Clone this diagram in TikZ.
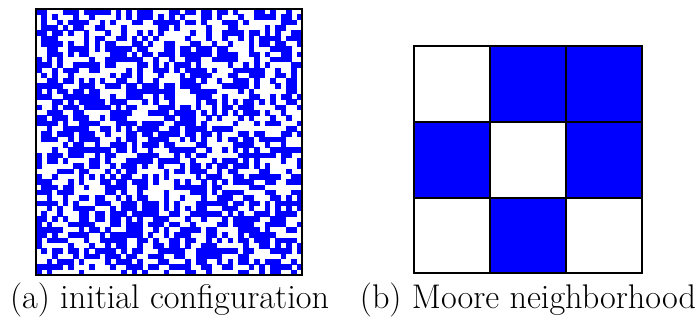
\documentclass[tikz,border=0pt]{standalone}
\begin{document}
\begin{tikzpicture}[x=1pt,y=-1pt,
  caption/.style={anchor=base,inner sep=0pt,font=\fontsize{34.2}{40}\selectfont},
  gridline/.style={draw=black,line width=1.3pt},
  oncell/.style={fill=blue}]
\useasboundingbox (0,0) rectangle (698,320);
% (a) random initial configuration, 50 x 50
\pgfmathsetseed{4711}
\begin{scope}
\clip (36,9) rectangle (302,275);
\foreach \i in {0,...,49}{%
  \foreach \j in {0,...,49}{%
    \pgfmathrandominteger{\r}{0}{1}%
    \ifnum\r=1
      \fill[oncell] ({36+\i*5.32},{9+\j*5.32}) rectangle ++(5.6,5.6);
    \fi
  }%
}
\end{scope}
\draw[gridline] (36,9) rectangle (302,275);
% (b) Moore neighborhood
\fill[oncell] (490,46) rectangle (642,122);
\fill[oncell] (414,122) rectangle (490,198);
\fill[oncell] (566,122) rectangle (642,198);
\fill[oncell] (490,198) rectangle (566,273);
\draw[gridline] (414,46) rectangle (642,273);
\draw[gridline] (490,46) -- (490,273);
\draw[gridline] (566,46) -- (566,273);
\draw[gridline] (414,122) -- (642,122);
\draw[gridline] (414,198) -- (642,198);
% captions
\node[caption] (capa) at (169.5,308) {(a) initial configuration};
\node[caption] (capb) at (528,308) {(b) Moore neighborhood};
\end{tikzpicture}
\end{document}
